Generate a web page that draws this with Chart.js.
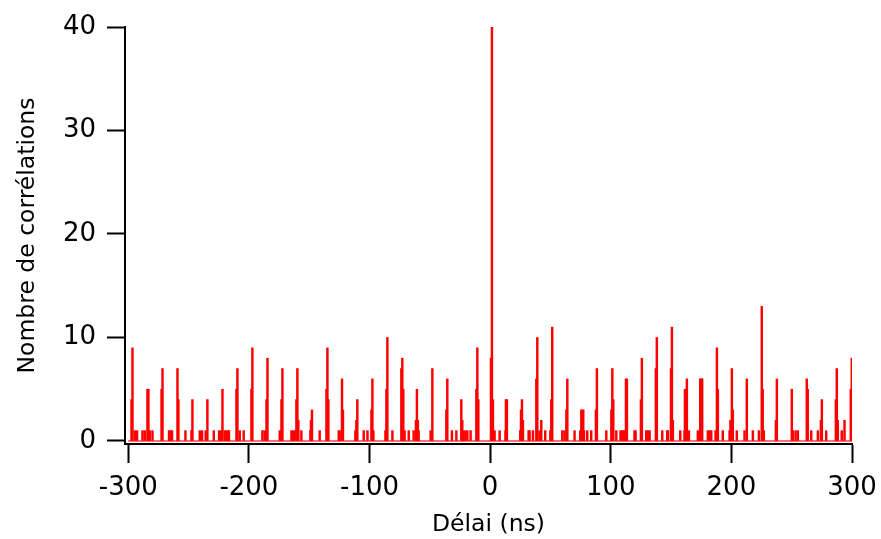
<!DOCTYPE html>
<html lang="fr">
<head>
  <meta charset="UTF-8" />
  <title>Nombre de corrélations en fonction du délai</title>
  <style>
  body {
    margin: 0;
    padding: 0;
    background: #fff;
  }
  #corrChart {
    display: block;
  }
  </style>
  <script src="https://cdn.jsdelivr.net/npm/chart.js"></script>
</head>
<body>
  <canvas id="corrChart" width="881" height="539"></canvas>

  <script>
  // Main peaks (delay in ns, number of correlations)
  const peakDelay = [-296.5, -284.1, -271.6, -259.2, -246.8, -234.4, -221.9, -209.5, -197.1, -184.6, -172.2, -159.8,
    -147.7, -134.9, -122.8, -110.1, -97.6, -85.2, -72.8, -60.7, -47.9, -35.5, -23.9, -10.6,
    1.5, 13.9, 26.4, 39.1, 51.5, 64.0, 76.4, 88.5, 101.3, 113.4, 125.8, 138.2,
    150.7, 163.1, 175.0, 188.0, 200.4, 212.8, 225.2, 237.7, 250.1, 262.5, 275.0, 287.4, 299.8];
  const peakCount = [9, 5, 7, 7, 4, 4, 5, 7, 9, 8, 7, 7,
    3, 9, 6, 4, 6, 10, 8, 5, 7, 6, 4, 9,
    40, 4, 4, 10, 11, 6, 3, 7, 7, 6, 8, 10,
    11, 6, 6, 9, 7, 6, 13, 6, 5, 6, 4, 7, 8];

  // Bins right next to the peaks
  const sideDelay = [-297.3, -283.3, -272.4, -258.4, -210.3, -197.9, -185.4, -173.0, -160.6, -159.0,
    -148.5, -135.7, -134.1, -122.0, -110.9, -98.4, -86.0, -73.6, -72.0, -61.5, -59.9, -36.3, -23.1, -11.4, -9.8,
    0.7, 2.3,
    13.1, 25.6, 27.2, 38.3, 42.4, 50.7, 63.2, 75.6, 77.2, 87.7, 100.5, 102.1, 112.6, 125.0, 137.4,
    149.9, 151.5, 161.5, 162.3, 174.2, 175.8, 188.8, 199.2, 201.2, 226.0, 236.9, 263.3, 274.2, 286.6, 288.2, 293.8, 299.0];
  const sideCount = [4, 5, 5, 4, 5, 5, 4, 4, 4, 2,
    2, 5, 4, 3, 2, 3, 5, 7, 5, 2, 2, 3, 2, 5, 4,
    8, 4,
    4, 3, 2, 6, 2, 4, 3, 3, 3, 3, 3, 4, 6, 4, 7,
    7, 2, 5, 4, 6, 6, 5, 2, 3, 5, 2, 5, 2, 4, 2, 2, 5];

  // Isolated single counts
  const singleDelay = [-294.6, -292.7, -288.2, -286.3, -282.2, -279.9, -266.2, -265.0, -263.7, -252.6, -247.6,
    -240.7, -238.8, -235.8, -229.1, -224.7, -223.3, -220.0, -218.6, -217.3, -216.5, -207.6, -204.3,
    -188.8, -186.9, -174.4, -164.7, -163.4, -162.0, -156.5,
    -149.0, -141.3, -125.5, -124.7, -111.7, -104.8, -101.7, -96.8, -86.8, -81.0, -70.9, -67.5, -63.4,
    -59.3, -49.3, -31.7, -28.0, -22.5, -20.6, -18.9, -16.2,
    3.7, 7.9, 12.8, 25.0, 31.9, 32.7, 35.5, 41.0, 45.7, 49.9, 59.8, 61.7, 70.0, 74.7, 77.8, 80.5, 83.8,
    96.3, 104.6, 108.1, 109.5, 110.6, 111.7, 119.7, 120.6, 129.4, 130.8, 132.2, 142.7, 146.8,
    147.4, 157.6, 161.2, 164.8, 172.2, 180.5, 181.9, 183.3, 186.9, 192.9, 198.5, 204.5, 210.9,
    217.8, 222.8, 226.9, 250.9, 253.2, 255.1, 266.2, 271.7, 278.6, 291.5];

  const xTicks = [-300, -200, -100, 0, 100, 200, 300];
  const yTicks = [0, 10, 20, 30, 40];

  // merge everything into one histogram, keyed by 0.1 ns
  const bins = new Map();
  function addBin(d, c) {
    const k = Math.round(d * 10);
    bins.set(k, Math.max(bins.get(k) || 0, c));
  }
  singleDelay.forEach(d => addBin(d, 1));
  sideDelay.forEach((d, i) => addBin(d, sideCount[i]));
  peakDelay.forEach((d, i) => addBin(d, peakCount[i]));

  const histData = [...bins.entries()]
    .sort((a, b) => a[0] - b[0])
    .map(([k, c]) => ({ x: k / 10, y: c }));

  const fontFamily = "'DejaVu Sans', sans-serif";

  new Chart(document.getElementById('corrChart').getContext('2d'), {
    type: 'bar',
    data: {
      datasets: [
        {
          type: 'line',
          data: [{ x: -300, y: 0 }, { x: 300, y: 0 }],
          borderColor: 'rgba(255, 0, 0, 0.75)',
          borderWidth: 1.5,
          pointRadius: 0
        },
        {
          data: histData,
          backgroundColor: '#ff0000',
          barThickness: 1.8,
          grouped: false
        }
      ]
    },
    options: {
      responsive: false,
      animation: false,
      devicePixelRatio: 1,
      layout: { padding: { top: 27, right: 29, bottom: 0, left: 0 } },
      plugins: {
        legend: { display: false },
        tooltip: { enabled: false }
      },
      scales: {
        x: {
          type: 'linear',
          min: -302.7,
          max: 300,
          offset: false,
          afterBuildTicks: s => { s.ticks = xTicks.map(v => ({ value: v })); },
          afterFit: s => {
            s.height = 95;
            s.paddingLeft = 0;
            s.paddingRight = 0;
          },
          ticks: {
            color: '#000',
            font: { family: fontFamily, size: 26 },
            padding: 10,
            maxRotation: 0,
            autoSkip: false,
            callback: v => String(v)
          },
          grid: { offset: false, drawOnChartArea: false, tickLength: 19, tickWidth: 2, tickColor: '#000' },
          border: { display: true, color: '#000', width: 2 },
          title: {
            display: true,
            text: 'Délai (ns)',
            color: '#000',
            font: { family: fontFamily, size: 23.5 },
            padding: { top: 0, bottom: 0 }
          }
        },
        y: {
          min: -0.29,
          max: 40,
          afterBuildTicks: s => { s.ticks = yTicks.map(v => ({ value: v })); },
          afterFit: s => { s.width = 125; },
          ticks: {
            color: '#000',
            font: { family: fontFamily, size: 26 },
            padding: 11,
            callback: v => String(v)
          },
          grid: { drawOnChartArea: false, tickLength: 18, tickWidth: 2, tickColor: '#000' },
          border: { display: true, color: '#000', width: 2 },
          title: {
            display: true,
            text: 'Nombre de corrélations',
            color: '#000',
            font: { family: fontFamily, size: 23.5 },
            padding: { top: 14, bottom: 0 }
          }
        }
      }
    }
  });
  </script>
</body>
</html>
